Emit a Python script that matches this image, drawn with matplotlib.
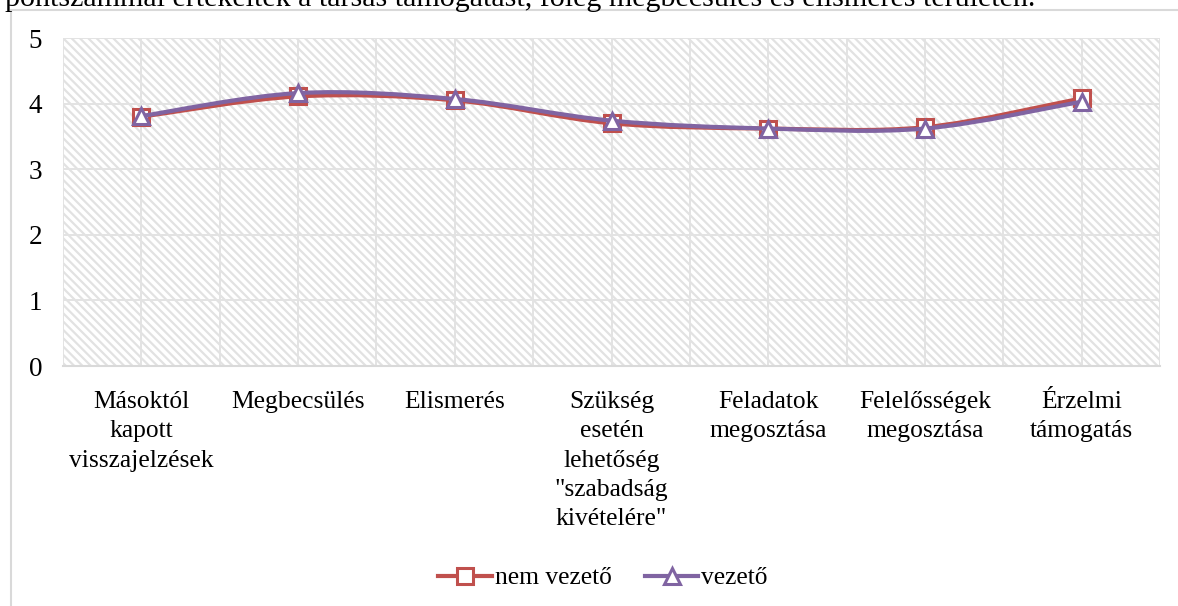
import matplotlib.pyplot as plt
from matplotlib.path import Path
from matplotlib.patches import PathPatch, Rectangle
from matplotlib.lines import Line2D

plt.rcParams['font.family'] = ['Liberation Serif', 'DejaVu Serif']
plt.rcParams['hatch.linewidth'] = 1.6

categories = ['Másoktól\nkapott\nvisszajelzések', 'Megbecsülés', 'Elismerés',
              'Szükség\nesetén\nlehetőség\n"szabadság\nkivételére"',
              'Feladatok\nmegosztása', 'Felelősségek\nmegosztása', 'Érzelmi\ntámogatás']
nem_vezeto = [3.80, 4.11, 4.05, 3.70, 3.62, 3.64, 4.08]
vezeto = [3.81, 4.16, 4.07, 3.74, 3.62, 3.62, 4.03]
yticks = [0, 1, 2, 3, 4, 5]

red = '#C0504D'
purple = '#8064A2'
fs = 18.4


def smooth_path(ys):
    # bezier curve through the points, tangents like a catmull-rom spline
    pts = list(enumerate(ys))
    verts = [pts[0]]
    codes = [Path.MOVETO]
    n = len(pts)
    for i in range(n - 1):
        p0 = pts[max(i - 1, 0)]
        p1 = pts[i]
        p2 = pts[i + 1]
        p3 = pts[min(i + 2, n - 1)]
        c1 = (p1[0] + (p2[0] - p0[0]) / 6, p1[1] + (p2[1] - p0[1]) / 6)
        c2 = (p2[0] - (p3[0] - p1[0]) / 6, p2[1] - (p3[1] - p1[1]) / 6)
        verts += [c1, c2, p2]
        codes += [Path.CURVE4] * 3
    return Path(verts, codes)


fig = plt.figure(figsize=(11.78, 6.06), dpi=100)
ax = fig.add_axes([63 / 1178, 1 - 366 / 606, 1097 / 1178, 328 / 606])

ax.patch.set_visible(False)
bg = Rectangle((0, 0), 1, 1, transform=ax.transAxes, facecolor='white',
               edgecolor='#e2e2e2', linewidth=0, hatch='\\\\\\\\', zorder=0)
ax.add_patch(bg)

x = list(range(len(categories)))
ax.set_xlim(-0.5, len(categories) - 0.5)
ax.set_ylim(0, 5)
ax.set_yticks(yticks)
ax.set_xticks(x)
ax.set_xticks([i - 0.5 for i in range(len(categories) + 1)], minor=True)
ax.set_xticklabels(categories, fontsize=fs, linespacing=1.43)
ax.tick_params(axis='y', labelsize=19.5, length=0, pad=15)
ax.tick_params(axis='x', which='both', length=0, pad=18)
ax.grid(True, which='both', color='#e3e3e3', linewidth=1.4, zorder=1)
ax.set_axisbelow(True)
for s in ['top', 'right', 'left']:
    ax.spines[s].set_visible(False)
ax.spines['bottom'].set_color('#d9d9d9')
ax.spines['bottom'].set_linewidth(1.5)

ax.add_patch(PathPatch(smooth_path(nem_vezeto), facecolor='none', edgecolor=red,
                       linewidth=3, capstyle='round', zorder=3))
ax.plot(x, nem_vezeto, linestyle='none', marker='s', markersize=11,
        markerfacecolor='white', markeredgecolor=red, markeredgewidth=2.2, zorder=4)
ax.add_patch(PathPatch(smooth_path(vezeto), facecolor='none', edgecolor=purple,
                       linewidth=3, capstyle='round', zorder=5))
ax.plot(x, vezeto, linestyle='none', marker='^', markersize=12,
        markerfacecolor='white', markeredgecolor=purple, markeredgewidth=2.2, zorder=6)

handles = [
    Line2D([], [], color=red, linewidth=3, marker='s', markersize=11,
           markerfacecolor='white', markeredgecolor=red, markeredgewidth=2.2),
    Line2D([], [], color=purple, linewidth=3, marker='^', markersize=12,
           markerfacecolor='white', markeredgecolor=purple, markeredgewidth=2.2),
]
fig.legend(handles, ['nem vezető', 'vezető'], loc='center', bbox_to_anchor=(603 / 1178, 1 - 578 / 606),
           ncol=2, frameon=False, fontsize=fs, handlelength=2.1, handletextpad=0.1,
           columnspacing=1.3)

# chart frame and the paragraph line above it
fig.patches.append(Rectangle((11 / 1178, -0.1), 2, 1 - 10 / 606 + 0.1, transform=fig.transFigure,
                             fill=False, edgecolor='#d9d9d9', linewidth=1.5))
fig.text(5 / 1178, 1 - 6 / 606, 'pontszámmal értékelték a társas támogatást, főleg megbecsülés és elismerés területén.',
         fontsize=21.6, va='baseline', ha='left')

fig.savefig('out.png', dpi=100)
